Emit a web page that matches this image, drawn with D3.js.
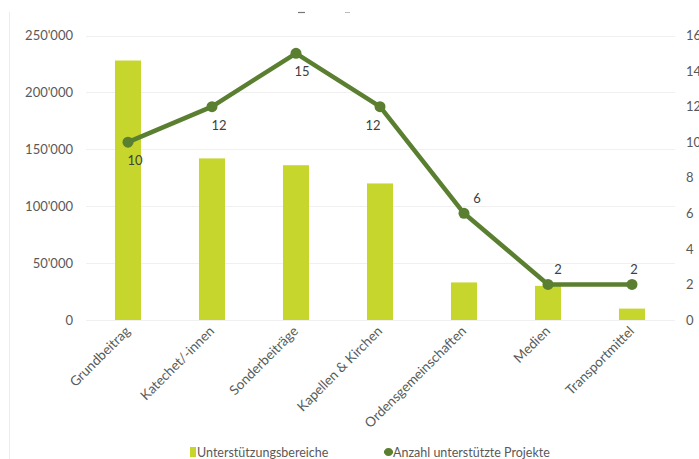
<!DOCTYPE html>
<html>
<head>
<meta charset="utf-8">
<script src="https://cdn.jsdelivr.net/npm/d3@7"></script>
<style>
  html, body { margin: 0; padding: 0; background: #fff; }
  svg { display: block; }
</style>
</head>
<body>
<svg id="chart" width="699" height="459"></svg>
<script>
const categories = ["Grundbeitrag", "Katechet/-innen", "Sonderbeiträge", "Kapellen & Kirchen", "Ordensgemeinschaften", "Medien", "Transportmittel"];
const amounts = [228000, 142000, 136000, 120000, 33000, 30000, 10000];
const projects = [10, 12, 15, 12, 6, 2, 2];
const leftTicks = [0, 50000, 100000, 150000, 200000, 250000];
const rightTicks = [0, 2, 4, 6, 8, 10, 12, 14, 16];
const labelSide = ["below", "below", "below", "below", "above", "above", "above"];
const labelShift = [7, 7, 6, -7, 13, 10, 2];
const seriesNames = ["Unterstützungsbereiche", "Anzahl unterstützte Projekte"];

const barColor = "#c6d62c";
const lineColor = "#5a7f30";
const textColor = "#595959";
const font = "Lato, 'Open Sans', sans-serif";

const svg = d3.select("#chart");
const M = { left: 86, right: 674, top: 35.5, bottom: 320 };

const x = d3.scaleBand().domain(categories).range([M.left, M.right]).padding(0);
const yL = d3.scaleLinear().domain([0, 250000]).range([M.bottom, M.top]);
const yR = d3.scaleLinear().domain([0, 16]).range([M.bottom, M.top]);
const fmt = v => d3.format(",")(v).replace(/,/g, "'");

// faint chart border
svg.append("line").attr("x1", 9.5).attr("x2", 9.5).attr("y1", 12).attr("y2", 459)
  .attr("stroke", "#ececec").attr("stroke-width", 1);

// remnants of the cropped title
svg.append("line").attr("x1", 298).attr("x2", 305).attr("y1", 12.5).attr("y2", 12.5)
  .attr("stroke", "#777").attr("stroke-width", 1.2);
svg.append("line").attr("x1", 345).attr("x2", 350).attr("y1", 12.5).attr("y2", 12.5)
  .attr("stroke", "#bbb").attr("stroke-width", 1);

// gridlines
svg.append("g").selectAll("line").data(leftTicks).join("line")
  .attr("x1", M.left).attr("x2", M.right + 1)
  .attr("y1", d => Math.round(yL(d)) + 0.5).attr("y2", d => Math.round(yL(d)) + 0.5)
  .attr("stroke", "#f0f0f0").attr("stroke-width", 1);

// left axis
const axL = svg.append("g").attr("transform", `translate(${M.left},0)`)
  .call(d3.axisLeft(yL).tickValues(leftTicks).tickFormat(fmt).tickSize(0).tickPadding(13));
axL.select(".domain").remove();
axL.selectAll("text").attr("fill", textColor).style("font-family", font).style("font-size", "13px");

// right axis
const axR = svg.append("g").attr("transform", `translate(${M.right},0)`)
  .call(d3.axisRight(yR).tickValues(rightTicks).tickSize(0).tickPadding(12));
axR.select(".domain").remove();
axR.selectAll("text").attr("fill", textColor).style("font-family", font).style("font-size", "13px");

// bars
const barW = x.bandwidth() * 0.31;
svg.append("g").selectAll("rect").data(amounts).join("rect")
  .attr("x", (d, i) => x(categories[i]) + x.bandwidth() / 2 - barW / 2)
  .attr("width", barW)
  .attr("y", d => yL(d))
  .attr("height", d => yL(0) - yL(d))
  .attr("fill", barColor);

// line
const cx = i => x(categories[i]) + x.bandwidth() / 2;
const line = d3.line().x((d, i) => cx(i)).y(d => yR(d));
svg.append("path").datum(projects).attr("d", line)
  .attr("fill", "none").attr("stroke", lineColor).attr("stroke-width", 4.5)
  .attr("stroke-linejoin", "round");
svg.append("g").selectAll("circle").data(projects).join("circle")
  .attr("cx", (d, i) => cx(i)).attr("cy", d => yR(d)).attr("r", 5.5)
  .attr("fill", lineColor);

// data labels
svg.append("g").selectAll("text").data(projects).join("text")
  .attr("x", (d, i) => cx(i) + labelShift[i])
  .attr("y", (d, i) => yR(d) + (labelSide[i] === "below" ? 23 : -10))
  .attr("text-anchor", "middle")
  .attr("fill", "#404040").style("font-family", font).style("font-size", "13px")
  .text(d => d);

// category labels
svg.append("g").selectAll("text").data(categories).join("text")
  .attr("transform", (d, i) => `translate(${cx(i) + 3},${M.bottom + 12}) rotate(-45)`)
  .attr("text-anchor", "end")
  .attr("fill", textColor).style("font-family", font).style("font-size", "13.5px")
  .text(d => d);

// legend
const lg = svg.append("g").style("font-family", font).style("font-size", "12.5px");
lg.append("rect").attr("x", 190).attr("y", 447).attr("width", 6).attr("height", 10).attr("fill", barColor);
lg.append("text").attr("x", 197).attr("y", 457).attr("fill", textColor).text(seriesNames[0]);
lg.append("line").attr("x1", 384).attr("x2", 393).attr("y1", 452).attr("y2", 452)
  .attr("stroke", lineColor).attr("stroke-width", 3);
lg.append("circle").attr("cx", 388.5).attr("cy", 452).attr("r", 4).attr("fill", lineColor);
lg.append("text").attr("x", 393).attr("y", 457).attr("fill", textColor).text(seriesNames[1]);
</script>
</body>
</html>
